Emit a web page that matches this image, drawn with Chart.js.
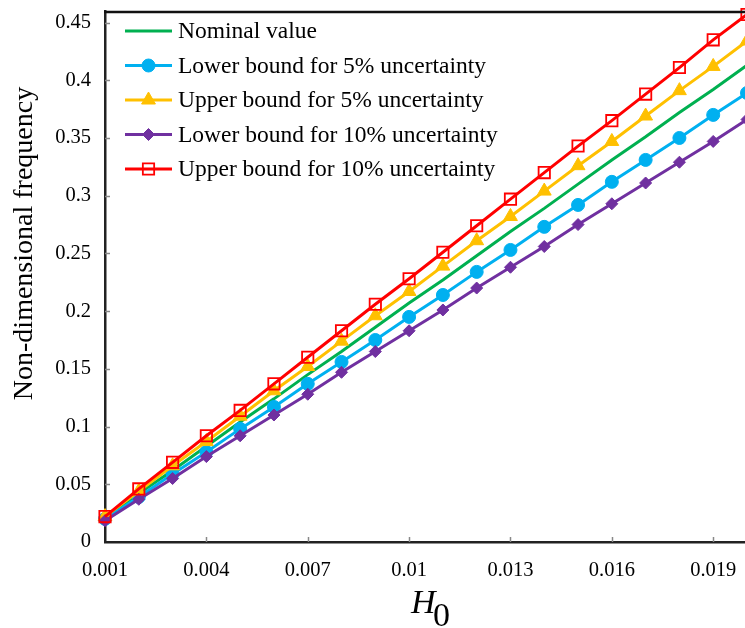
<!DOCTYPE html>
<html><head><meta charset="utf-8">
<script src="https://cdn.jsdelivr.net/npm/chart.js@4/dist/chart.umd.min.js"></script>
<style>html,body{margin:0;padding:0;overflow:hidden;background:#fff}#wrap{width:748px;height:628px;position:relative}</style>
</head><body><div id="wrap"><canvas id="c"></canvas></div>
<script>
// ---- data ----
const h0Values = [0.001,0.002,0.003,0.004,0.005,0.006,0.007,0.008,0.009,0.010,
                  0.011,0.012,0.013,0.014,0.015,0.016,0.017,0.018,0.019,0.020];
const nominal = [0.021,0.042,0.062,0.083,0.104,0.124,0.145,0.165,0.186,0.207,
                 0.227,0.248,0.269,0.289,0.310,0.331,0.351,0.372,0.392,0.413];
const lower5  = [0.020,0.039,0.059,0.078,0.098,0.117,0.137,0.156,0.175,0.195,
                 0.214,0.234,0.253,0.273,0.292,0.312,0.331,0.350,0.370,0.389];
const upper5  = [0.022,0.044,0.066,0.087,0.109,0.131,0.152,0.174,0.196,0.217,
                 0.239,0.261,0.282,0.304,0.326,0.347,0.369,0.391,0.412,0.434];
const lower10 = [0.0185,0.037,0.055,0.074,0.092,0.110,0.128,0.147,0.165,0.183,
                 0.201,0.220,0.238,0.256,0.275,0.293,0.311,0.329,0.347,0.366];
const upper10 = [0.022,0.046,0.069,0.092,0.114,0.137,0.160,0.183,0.206,0.228,
                 0.251,0.274,0.297,0.320,0.343,0.365,0.388,0.411,0.435,0.457];
const seriesNames = ['Nominal value','Lower bound for 5% uncertainty','Upper bound for 5% uncertainty',
                     'Lower bound for 10% uncertainty','Upper bound for 10% uncertainty'];
const xTickValues = [0.001,0.004,0.007,0.010,0.013,0.016,0.019];
const yTickValues = [0,0.05,0.10,0.15,0.20,0.25,0.30,0.35,0.40,0.45];
const yTitle = 'Non-dimensional frequency';
const xTitleMain = 'H';
const xTitleSub = '0';

const SERIF = '"Liberation Serif","Times New Roman",serif';

function pts(arr){ return h0Values.map((x,i)=>({x:x,y:arr[i]})); }

const datasets = [
  {label:seriesNames[0], data:pts(nominal), borderColor:'#00B050', backgroundColor:'#00B050',
   pointRadius:0, pointStyle:false, order:5},
  {label:seriesNames[1], data:pts(lower5), borderColor:'#00B0F0', backgroundColor:'#00B0F0',
   pointStyle:'circle', pointRadius:6.5, pointBorderWidth:1, order:4},
  {label:seriesNames[2], data:pts(upper5), borderColor:'#FFC000', backgroundColor:'#FFC000',
   pointStyle:'triangle', pointRadius:8, pointBorderWidth:1, order:3},
  {label:seriesNames[3], data:pts(lower10), borderColor:'#7030A0', backgroundColor:'#7030A0',
   pointStyle:'rectRot', pointRadius:6, pointBorderWidth:1, order:2},
  {label:seriesNames[4], data:pts(upper10), borderColor:'#FF0000', backgroundColor:'rgba(255,255,255,0)',
   pointStyle:'rect', pointRadius:8, pointBorderWidth:1.8, order:1}
];
datasets.forEach(d=>{ d.borderWidth=3; d.tension=0; d.clip=false; d.pointHoverRadius=d.pointRadius; });

function fmt(v){ return String(parseFloat(v.toFixed(3))); }

function drawMarker(ctx, ds, x, y){
  if (!ds.pointStyle) return;
  ctx.save();
  ctx.fillStyle = ds.backgroundColor;
  ctx.strokeStyle = ds.borderColor;
  ctx.lineWidth = ds.pointBorderWidth;
  if (Chart.helpers && Chart.helpers.drawPoint) {
    Chart.helpers.drawPoint(ctx, {pointStyle:ds.pointStyle, radius:ds.pointRadius, borderWidth:ds.pointBorderWidth, rotation:0}, x, y);
  }
  ctx.restore();
}

const decorPlugin = {
  id:'decor',
  afterDraw(chart){
    const ctx = chart.ctx, ca = chart.chartArea;
    const xs = chart.scales.x, ys = chart.scales.y;
    ctx.save();
    // top border
    ctx.strokeStyle = '#111'; ctx.lineWidth = 2.5;
    ctx.beginPath(); ctx.moveTo(ca.left-1, ca.top+1); ctx.lineTo(ca.right+5, ca.top+1); ctx.stroke();
    // inward tick marks
    ctx.strokeStyle = '#888'; ctx.lineWidth = 1.5;
    yTickValues.forEach(v=>{ const py = Math.round(ys.getPixelForValue(v))+0.5;
      if (v===0) return; ctx.beginPath(); ctx.moveTo(ca.left, py); ctx.lineTo(ca.left+5, py); ctx.stroke(); });
    xTickValues.forEach(v=>{ const px = Math.round(xs.getPixelForValue(v))+0.5;
      if (v===xTickValues[0]) return; ctx.beginPath(); ctx.moveTo(px, ca.bottom); ctx.lineTo(px, ca.bottom-5); ctx.stroke(); });
    // y title
    ctx.fillStyle = '#000';
    ctx.font = '28px ' + SERIF;
    ctx.textAlign = 'center'; ctx.textBaseline = 'alphabetic';
    ctx.save(); ctx.translate(32, 243.5); ctx.rotate(-Math.PI/2); ctx.fillText(yTitle, 0, 0); ctx.restore();
    // x title H with subscript 0
    ctx.textAlign = 'left';
    ctx.font = 'italic 34px ' + SERIF;
    ctx.fillText(xTitleMain, 411, 613);
    ctx.font = '34px ' + SERIF;
    ctx.fillText(xTitleSub, 433, 626);
    // legend
    const order = [0,1,2,3,4];
    order.forEach((di,row)=>{
      const ds = chart.data.datasets[di];
      const y = 31 + row*34.5;
      ctx.strokeStyle = ds.borderColor; ctx.lineWidth = 3;
      ctx.beginPath(); ctx.moveTo(125, y); ctx.lineTo(172, y); ctx.stroke();
      drawMarker(ctx, ds, 148.5, y);
      ctx.fillStyle = '#000'; ctx.font = '23.5px ' + SERIF;
      ctx.textAlign = 'left'; ctx.textBaseline = 'middle';
      ctx.fillText(ds.label, 178, y+1);
    });
    ctx.restore();
  }
};

new Chart(document.getElementById('c'), {
  type:'line',
  data:{datasets:datasets},
  options:{
    responsive:true, maintainAspectRatio:false, animation:false,
    layout:{autoPadding:false, padding:{top:11, right:1, left:0, bottom:0}},
    plugins:{legend:{display:false}, tooltip:{enabled:false}},
    scales:{
      x:{type:'linear', min:0.001, max:0.020,
         afterBuildTicks:(s)=>{ s.ticks = xTickValues.map(v=>({value:v})); },
         afterFit:(s)=>{ s.height = 86; s.paddingLeft = 0; s.paddingRight = 0; },
         grid:{display:true, drawOnChartArea:false, drawTicks:false, color:'rgba(0,0,0,0)'},
         border:{display:true, color:'#222', width:2.5},
         ticks:{color:'#000', padding:16, maxRotation:0, autoSkip:false, font:{family:SERIF, size:20.5},
                callback:(v)=>fmt(v)}},
      y:{type:'linear', min:0, max:0.46,
         afterBuildTicks:(s)=>{ s.ticks = yTickValues.map(v=>({value:v})); },
         afterFit:(s)=>{ s.width = 105; s.paddingTop = 0; s.paddingBottom = 0; },
         grid:{display:true, drawOnChartArea:false, drawTicks:false, color:'rgba(0,0,0,0)'},
         border:{display:true, color:'#222', width:2.5},
         ticks:{color:'#000', padding:14, autoSkip:false, font:{family:SERIF, size:20.5},
                callback:(v)=>fmt(v)}}
    }
  },
  plugins:[decorPlugin]
});
</script></body></html>
